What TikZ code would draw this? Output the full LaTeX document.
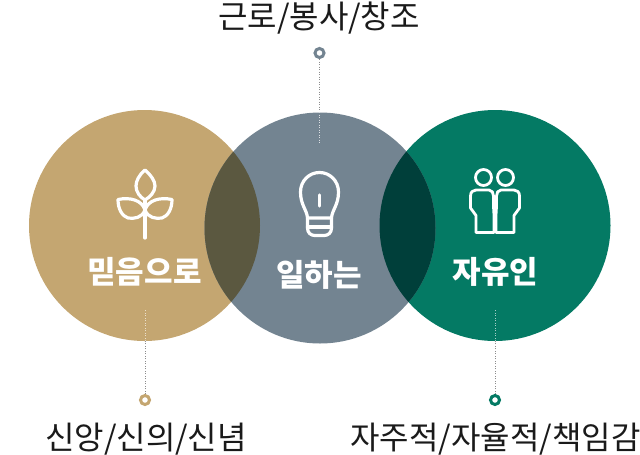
\documentclass[tikz,border=0pt]{standalone}
\usepackage{fontspec}
\setmainfont{Noto Sans CJK KR}
\definecolor{cgold}{HTML}{C4A671}
\definecolor{cgrey}{HTML}{738491}
\definecolor{cgreen}{HTML}{047A64}
\definecolor{ogold}{HTML}{5B5840}
\definecolor{ogreen}{HTML}{003F3A}
\definecolor{ink}{HTML}{1A1A1A}
\tikzset{
  ball/.style={circle,inner sep=0pt,minimum size=#1},
  ring/.style={circle,draw=#1,line width=3pt,fill=white,inner sep=0pt,minimum size=9pt},
  lead/.style={draw=#1,line width=.7pt,dash pattern=on .9pt off 1.6pt},
  captext/.style={text=ink,font=\fontsize{32}{34}\selectfont,inner sep=0pt,anchor=base},
  titletext/.style={text=white,font=\bfseries\fontsize{31}{32}\selectfont,inner sep=0pt},
  icon/.style={draw=white,line width=3.2pt,line cap=round,line join=round},
}
\begin{document}
\begin{tikzpicture}[x=1pt,y=-1pt]
\useasboundingbox (0,0) rectangle (640,455);
\fill[white] (0,0) rectangle (640,455);
% circles
\node[ball=231pt,fill=cgold] (gold) at (144.5,225.5) {};
\node[ball=231pt,fill=cgreen] (green) at (495,225.5) {};
\node[ball=231pt,fill=cgrey] (grey) at (320,228) {};
\begin{scope}
\clip (144.5,225.5) circle (115.5);
\fill[ogold] (320,228) circle (115.5);
\end{scope}
\begin{scope}
\clip (495,225.5) circle (115.5);
\fill[ogreen] (320,228) circle (115.5);
\end{scope}
% captions
\node[captext] (t1) at (319,28) {근로/봉사/창조};
\node[captext] (t2) at (146,449) {신앙/신의/신념};
\node[captext] (t3) at (495.5,449) {자주적/자율적/책임감};
% rings and leaders
\node[ring=cgrey] (r1) at (319.5,53) {};
\node[ring=cgold] (r2) at (145,400) {};
\node[ring=cgreen] (r3) at (495,400) {};
\coordinate (e1) at (319.5,143);
\coordinate (e2) at (145,310);
\coordinate (e3) at (495,310);
\draw[lead=black!45] (r1) -- (319.5,112);
\draw[lead=white!75!cgrey] (319.5,112) -- (e1);
\draw[lead=black!45] (r2) -- (145,341);
\draw[lead=white!65!cgold] (145,341) -- (e2);
\draw[lead=black!45] (r3) -- (495,341);
\draw[lead=white!65!cgreen] (495,341) -- (e3);
% titles
\node[titletext] (n1) at (144.5,272) {믿음으로};
\node[titletext] (n2) at (319,275) {일하는};
\node[titletext] (n3) at (495.5,272) {자유인};
% plant icon
\draw[icon] (145,238) -- (145,200);
\draw[icon] (145,170) .. controls (139,175) and (136,181) .. (136,186) .. controls (136,192) and (140,197) .. (145,200) .. controls (150,197) and (155,192) .. (155,186) .. controls (155,181) and (151,175) .. (145,170) -- cycle;
\draw[icon] (118,199.5) .. controls (130,197) and (142,200) .. (145,210) .. controls (142,218) and (134,219) .. (128,218) .. controls (122,216) and (118,209) .. (118,199.5) -- cycle;
\draw[icon] (172,199.5) .. controls (160,197) and (148,200) .. (145,210) .. controls (148,218) and (156,219) .. (162,218) .. controls (168,216) and (172,209) .. (172,199.5) -- cycle;
% bulb icon
\draw[icon] (307.5,218) .. controls (307,210) and (300.5,205) .. (300.5,192) .. controls (300.5,181) and (309,172.5) .. (319.5,172.5) .. controls (330,172.5) and (338.5,181) .. (338.5,192) .. controls (338.5,205) and (332,210) .. (331.5,218) -- cycle;
\draw[icon] (307.5,218) -- (307.5,228) .. controls (307.5,233) and (311,235.5) .. (315,235.5) -- (324,235.5) .. controls (328,235.5) and (331.5,233) .. (331.5,228) -- (331.5,218);
\draw[icon] (307.5,227) -- (331.5,227);
\draw[icon] (319.5,195) -- (319.5,206);
% people icon
\draw[icon,line width=2.8pt] (483.5,177.5) circle (8);
\draw[icon,line width=2.8pt] (505.5,177.5) circle (8);
\draw[icon,line width=2.8pt] (494,232.5) -- (476,232.5) -- (476,215.5) -- (470.5,208) -- (470.5,196) .. controls (470.5,192) and (473,190) .. (476,190) -- (489,190) .. controls (492,190) and (493.5,193) .. (493.5,196) -- (493.5,205) .. controls (493.5,209) and (494,212) .. (494,215) -- cycle;
\draw[icon,line width=2.8pt] (496,232.5) -- (514,232.5) -- (514,215.5) -- (519.5,208) -- (519.5,196) .. controls (519.5,192) and (517,190) .. (514,190) -- (501,190) .. controls (498,190) and (496.5,193) .. (496.5,196) -- (496.5,205) .. controls (496.5,209) and (496,212) .. (496,215) -- cycle;
\end{tikzpicture}
\end{document}
